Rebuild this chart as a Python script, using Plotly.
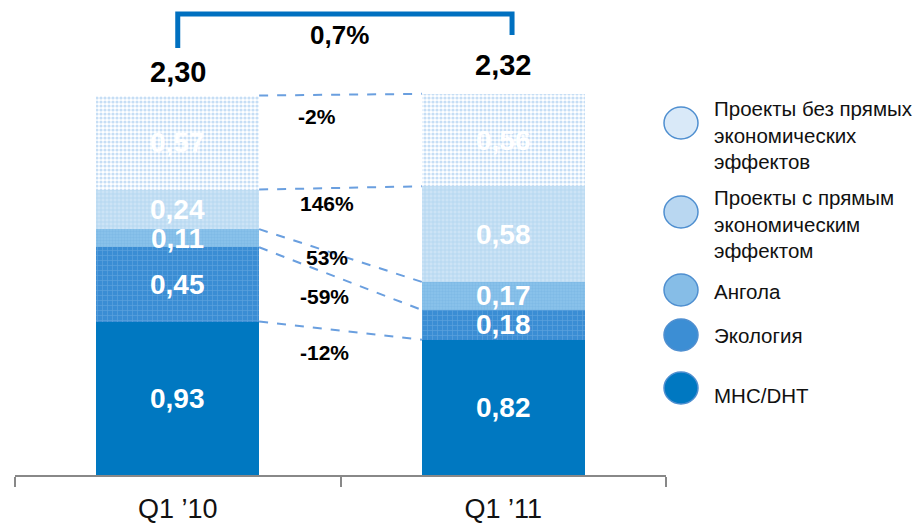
import plotly.graph_objects as go

periods = ["Q1 ’10", "Q1 ’11"]
mhc = [0.93, 0.82]
ecology = [0.45, 0.18]
angola = [0.11, 0.17]
direct = [0.24, 0.58]
no_direct = [0.57, 0.56]
totals = [2.30, 2.32]
total_growth = "0,7%"
# change per segment, bottom -> top
changes = ["-12%", "-59%", "53%", "146%", "-2%"]

names = ["MHC/DHT", "Экология", "Ангола",
         "Проекты с прямым<br>экономическим<br>эффектом",
         "Проекты без прямых<br>экономических<br>эффектов"]
series = [mhc, ecology, angola, direct, no_direct]

FONT = "Arial, Liberation Sans, sans-serif"
BLUE = "#0078C1"

patterns = [
    None,
    dict(shape="+", fgcolor="#7DB5E6", bgcolor="#3A8DD4", size=5, solidity=0.25),
    dict(shape=".", fgcolor="#6FB1E2", bgcolor="#8CC2EA", size=3, solidity=0.5),
    dict(shape="+", fgcolor="#8EC0EA", bgcolor="#CCE3F6", size=4, solidity=0.3),
    dict(shape=".", fgcolor="#8DBDEB", bgcolor="white", size=4, solidity=0.5),
]
swatch = ["#0078C1", "#3C8ED4", "#86BDE7", "#B9D7F1", "#D9E9F8"]

fig = go.Figure()
for name, vals, pat in zip(names, series, patterns):
    marker = dict(color=BLUE if pat is None else pat["bgcolor"], line=dict(width=0))
    if pat is not None:
        marker["pattern"] = pat
    fig.add_trace(go.Bar(x=periods, y=vals, name=name, marker=marker,
                         showlegend=False, hoverinfo="skip"))

# cumulative tops of each segment
cum = []
run = [0.0, 0.0]
for vals in series:
    run = [run[0] + vals[0], run[1] + vals[1]]
    cum.append(list(run))

annotations = []
# values inside the bars
for k, vals in enumerate(series):
    for i in range(2):
        mid = cum[k][i] - vals[i] / 2
        annotations.append(dict(x=i, y=mid, xref="x", yref="y", showarrow=False,
                                text=f"{vals[i]:.2f}".replace(".", ","),
                                font=dict(family=FONT, size=28, color="white", weight="bold")))

shapes = []
# dashed connectors between segment tops
for k in range(len(series)):
    shapes.append(dict(type="line", xref="x", yref="y", x0=0.25, x1=0.75,
                       y0=cum[k][0], y1=cum[k][1],
                       line=dict(color="#6A9FDF", width=2, dash="dash")))

change_pos = [(0.452, 0.745), (0.452, 1.079), (0.458, 1.321), (0.458, 1.648), (0.428, 2.170)]
for txt, (cx, cy) in zip(changes, change_pos):
    annotations.append(dict(x=cx, y=cy, xref="x", yref="y", showarrow=False, text=txt,
                            font=dict(family=FONT, size=21, color="black", weight="bold")))

# totals above bars
for i, (t, ys) in enumerate(zip(totals, [6, 11])):
    annotations.append(dict(x=i, y=cum[-1][i], xref="x", yref="y", showarrow=False,
                            yanchor="bottom", yshift=ys,
                            text=f"{t:.2f}".replace(".", ","),
                            font=dict(family=FONT, size=29, color="black", weight="bold")))

# growth bracket
shapes.append(dict(type="path", xref="x", yref="y",
                   path="M 0,2.588 L 0,2.794 L 1.027,2.794 L 1.027,2.667",
                   line=dict(color="#0070C0", width=5)))
annotations.append(dict(x=0.498, y=2.667, xref="x", yref="y", showarrow=False,
                        text=total_growth,
                        font=dict(family=FONT, size=26, color="black", weight="bold")))

# page has an 8px body margin; plot area spans x 15..666, y 8..475 on screen
def px(x):
    return (x - 15) / 651


def py(y):
    return (475 - y) / 467


leg_circle_y = [388, 335, 290, 212, 123]
leg_text_y = [395, 335, 291, 224, 135]
for k in range(len(series)):
    shapes.append(dict(type="circle", xref="paper", yref="paper",
                       xsizemode="pixel", ysizemode="pixel",
                       xanchor=px(681), yanchor=py(leg_circle_y[k]),
                       x0=-17, x1=17, y0=-16, y1=16,
                       fillcolor=swatch[k], line=dict(color="#4F8FD0", width=1.5)))
    annotations.append(dict(x=px(712), y=py(leg_text_y[k]), xref="paper", yref="paper",
                            xanchor="left", yanchor="middle", align="left", showarrow=False,
                            text=names[k], font=dict(family=FONT, size=20.5, color="#111")))

fig.update_layout(
    width=916, height=516,
    margin=dict(l=7, r=258, t=0, b=49, autoexpand=False),
    barmode="stack", bargap=0.5,
    plot_bgcolor="white", paper_bgcolor="white",
    shapes=shapes, annotations=annotations,
    xaxis=dict(showline=True, linecolor="#888", linewidth=2, ticks="outside",
               tickson="boundaries", ticklen=10, tickcolor="#888", tickwidth=2,
               showgrid=False, automargin=False, ticklabelstandoff=9,
               tickfont=dict(family=FONT, size=27, color="#111")),
    yaxis=dict(visible=False, range=[0, 467 / 165], automargin=False),
)

fig.write_html("out.html")
